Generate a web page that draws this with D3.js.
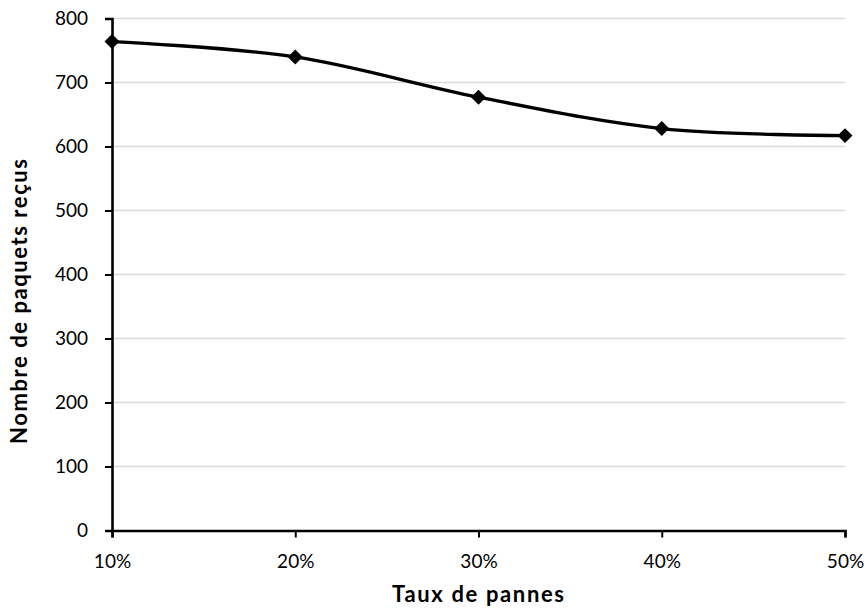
<!DOCTYPE html>
<html><head><meta charset="utf-8">
<script src="https://cdn.jsdelivr.net/npm/d3@7"></script>
<style>body{margin:0;background:#fff}svg{display:block}text{font-family:Lato,"Open Sans",sans-serif;fill:#000}</style>
</head><body>
<svg id="c" width="867" height="613"></svg>
<script>
const categories = ["10%","20%","30%","40%","50%"];
const values = [764, 740, 677, 628, 617];
const yTicks = [0,100,200,300,400,500,600,700,800];
const xTitle = "Taux de pannes";
const yTitle = "Nombre de paquets reçus";

const svg = d3.select("#c");
const L = 112, R = 845, T = 18.5, B = 530.5;
const x = d3.scalePoint().domain(categories).range([L, R]);
const y = d3.scaleLinear().domain([0, 800]).range([B, T]);

svg.append("g").selectAll("line").data(yTicks.filter(d=>d>0)).join("line")
  .attr("x1", L).attr("x2", R).attr("y1", d=>y(d)).attr("y2", d=>y(d))
  .attr("stroke", "#d9d9d9").attr("stroke-width", 1.3);

const yAxis = svg.append("g").attr("transform", `translate(${L},0)`)
  .call(d3.axisLeft(y).tickValues(yTicks).tickSize(7).tickPadding(17).tickFormat(d3.format("d")));
yAxis.select(".domain").attr("stroke", "#000").attr("stroke-width", 2.6);
yAxis.selectAll(".tick line").attr("stroke", "#000").attr("stroke-width", 2);
yAxis.selectAll("text").attr("font-size", 19).attr("font-family", "Lato, sans-serif").attr("fill", "#000");

const xAxis = svg.append("g").attr("transform", `translate(0,${B})`)
  .call(d3.axisBottom(x).tickSize(7).tickPadding(17));
xAxis.select(".domain").attr("stroke", "#000").attr("stroke-width", 2.6);
xAxis.selectAll(".tick line").attr("stroke", "#000").attr("stroke-width", 2);
xAxis.selectAll("text").attr("font-size", 19).attr("font-family", "Lato, sans-serif").attr("fill", "#000");

const pts = categories.map((c,i)=>[x(c), y(values[i])]);
svg.append("path").datum(pts)
  .attr("d", d3.line().curve(d3.curveCardinal.tension(0)))
  .attr("fill", "none").attr("stroke", "#000").attr("stroke-width", 3.3);

svg.append("g").selectAll("path").data(pts).join("path")
  .attr("d", d3.symbol(d3.symbolSquare, 112))
  .attr("transform", d=>`translate(${d[0]},${d[1]}) rotate(45)`)
  .attr("fill", "#000");

svg.append("text").attr("x", 478).attr("y", 602).attr("text-anchor", "middle")
  .attr("font-size", 22).attr("font-weight", "bold")
  .attr("textLength", 172).attr("lengthAdjust", "spacing").text(xTitle);
svg.append("text").attr("transform", `translate(27,301.5) rotate(-90)`).attr("text-anchor", "middle")
  .attr("font-size", 22).attr("font-weight", "bold")
  .attr("textLength", 285).attr("lengthAdjust", "spacing").text(yTitle);
</script>
</body></html>
